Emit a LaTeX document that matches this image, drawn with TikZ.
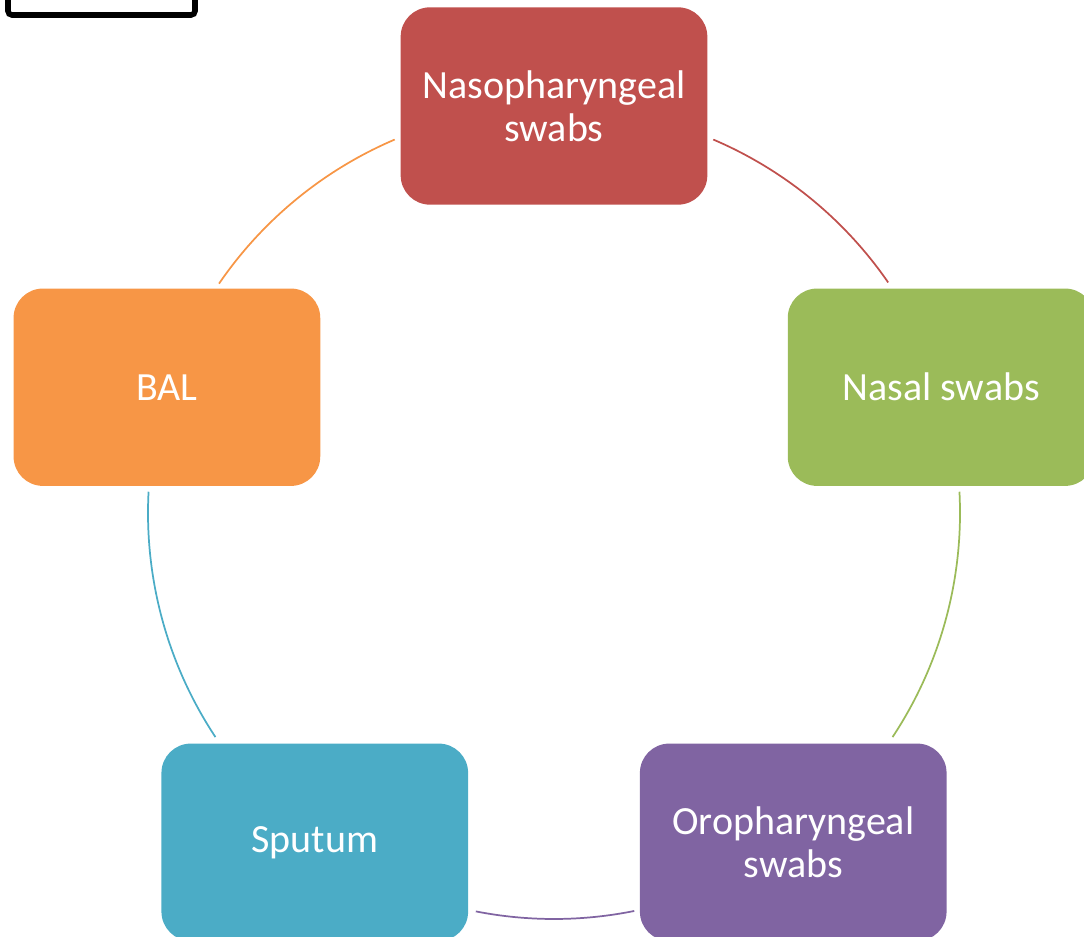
\documentclass[tikz,border=0pt]{standalone}
\usepackage{fontspec}
\setmainfont{Carlito}
\usetikzlibrary{calc}
\definecolor{sampred}{HTML}{C0504D}
\definecolor{sampgreen}{HTML}{9BBB59}
\definecolor{samppurple}{HTML}{8064A2}
\definecolor{sampteal}{HTML}{4BACC6}
\definecolor{samporange}{HTML}{F79646}
\begin{document}
\begin{tikzpicture}[x=0.75pt,y=0.75pt,
  sample/.style={rounded corners=22pt, minimum width=230pt, minimum height=148pt,
    inner sep=0pt, align=center, text=white, font=\fontsize{30}{32}\selectfont},
  link/.style={line width=1.3pt}]
\useasboundingbox (0,0) rectangle (1084,936);
\clip (0,0) rectangle (1084,936);
% frame in the corner
\draw[line width=4.2pt, rounded corners=3pt] (8,921) rectangle (195,960);
\coordinate (c) at (554,423);
\path node[sample, fill=sampred] (naso) at ($(c)+(90:407)$) {Nasopharyngeal\\swabs};
\path node[sample, fill=sampgreen] (nasal) at ($(c)+(18:407)$) {Nasal swabs};
\path node[sample, fill=samppurple] (oro) at ($(c)+(-54:407)$) {Oropharyngeal\\swabs};
\path node[sample, fill=sampteal] (sput) at ($(c)+(-126:407)$) {Sputum};
\path node[sample, fill=samporange] (bal) at ($(c)+(162:407)$) {BAL};
% arcs between the boxes
\coordinate (a1) at ($(c)+(66.9:406)$);
\coordinate (a2) at ($(c)+(3:406)$);
\coordinate (a3) at ($(c)+(-78.6:406)$);
\coordinate (a4) at ($(c)+(-146.5:406)$);
\coordinate (a5) at ($(c)+(145.6:406)$);
\draw[link, sampred] (a1) arc[start angle=66.9, end angle=34.6, radius=406];
\draw[link, sampgreen] (a2) arc[start angle=3, end angle=-33.5, radius=406];
\draw[link, samppurple] (a3) arc[start angle=-78.6, end angle=-101.1, radius=406];
\draw[link, sampteal] (a4) arc[start angle=-146.5, end angle=-183, radius=406];
\draw[link, samporange] (a5) arc[start angle=145.6, end angle=113.1, radius=406];
\end{tikzpicture}
\end{document}
